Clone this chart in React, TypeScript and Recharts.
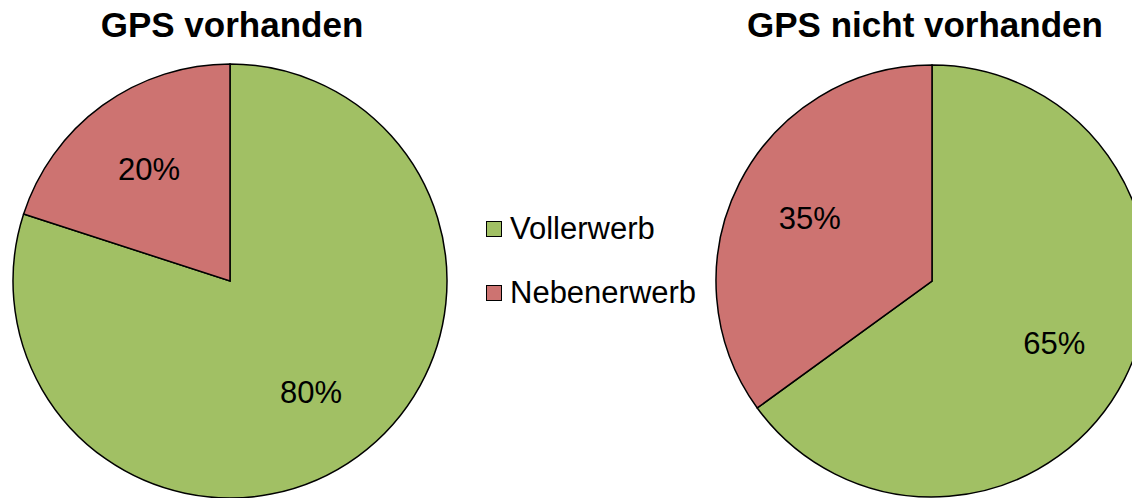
import { Cell, Pie, PieChart } from "recharts";

const categories = ["Vollerwerb", "Nebenerwerb"];
const withGps = [80, 20];
const withoutGps = [65, 35];
const titles = ["GPS vorhanden", "GPS nicht vorhanden"];
const colors = ["#A1C064", "#CD7371"];

const RAD = Math.PI / 180;
const FONT = "'Liberation Sans', Arial, sans-serif";

const toRows = (values: number[]) => categories.map((name, i) => ({ name, value: values[i] }));

const renderLabel = (props: any) => {
  const { cx, cy, midAngle, outerRadius, percent } = props;
  const r = outerRadius * 0.635;
  const x = cx + r * Math.cos(-midAngle * RAD);
  const y = cy + r * Math.sin(-midAngle * RAD);
  return (
    <text x={x} y={y} fill="#000" fontSize={31} fontFamily={FONT} textAnchor="middle" dominantBaseline="central">
      {`${Math.round(percent * 100)}%`}
    </text>
  );
};

export default function App() {
  return (
    <div style={{ position: "absolute", left: 0, top: 0, width: 1132, height: 498, background: "#fff", overflow: "hidden" }}>
      <PieChart width={1132} height={498} margin={{ top: 0, right: 0, bottom: 0, left: 0 }}>
        <Pie
          data={toRows(withGps)}
          dataKey="value"
          cx={230}
          cy={281}
          outerRadius={217}
          startAngle={90}
          endAngle={-270}
          stroke="#000"
          strokeWidth={1.5}
          label={renderLabel}
          labelLine={false}
          isAnimationActive={false}
        >
          {categories.map((c, i) => (
            <Cell key={c} fill={colors[i]} />
          ))}
        </Pie>
        <Pie
          data={toRows(withoutGps)}
          dataKey="value"
          cx={932}
          cy={281}
          outerRadius={216}
          startAngle={90}
          endAngle={-270}
          stroke="#000"
          strokeWidth={1.5}
          label={renderLabel}
          labelLine={false}
          isAnimationActive={false}
        >
          {categories.map((c, i) => (
            <Cell key={c} fill={colors[i]} />
          ))}
        </Pie>
      </PieChart>

      {titles.map((t, i) => (
        <div
          key={t}
          style={{
            position: "absolute",
            top: 7,
            left: i === 0 ? 232 - 250 : 925 - 250,
            width: 500,
            textAlign: "center",
            fontFamily: FONT,
            fontWeight: "bold",
            fontSize: 35,
            lineHeight: "35px",
            color: "#000",
          }}
        >
          {t}
        </div>
      ))}

      {categories.map((c, i) => (
        <div
          key={c}
          style={{
            position: "absolute",
            left: 486,
            top: i === 0 ? 213 : 277,
            display: "flex",
            alignItems: "center",
            fontFamily: FONT,
            fontSize: 31,
            lineHeight: "31px",
            color: "#000",
            whiteSpace: "nowrap",
          }}
        >
          <span
            style={{
              display: "inline-block",
              width: 14,
              height: 14,
              background: colors[i],
              border: "1.5px solid #000",
              marginRight: 8,
            }}
          />
          {c}
        </div>
      ))}
    </div>
  );
}
